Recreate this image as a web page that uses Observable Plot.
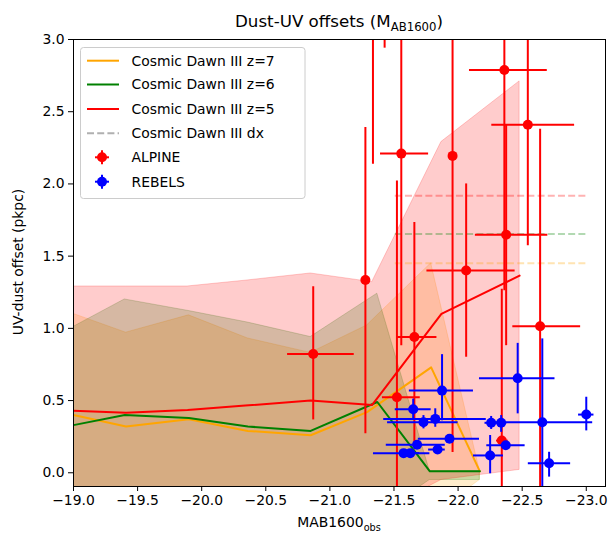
<!DOCTYPE html>
<html><head><meta charset="utf-8">
<script src="https://cdn.jsdelivr.net/npm/d3@7"></script>
<script src="https://cdn.jsdelivr.net/npm/@observablehq/plot@0.6"></script>
<style>
body{margin:0;background:#fff;}
#chart svg{display:block;}
</style></head><body><div id="chart"></div>
<script>
// ---------- data ----------
const xTicks = [-19.0,-19.5,-20.0,-20.5,-21.0,-21.5,-22.0,-22.5,-23.0];
const yTicks = [0.0,0.5,1.0,1.5,2.0,2.5,3.0];

// Cosmic Dawn III z=7 (median + band)
const z7X   = [-19.0,-19.41,-19.9,-20.36,-20.85,-21.29,-21.79,-22.17];
const z7Med = [0.40, 0.32, 0.37, 0.29, 0.26, 0.42, 0.73, 0.01];
const z7Hi  = [1.10, 0.97, 1.09, 0.93, 0.83, 1.02, 1.45, 0.01];
const z7Lo  = [-0.3,-0.3,-0.3,-0.3,-0.3,-0.3,-0.3,-0.05];
// z=6
const z6X   = [-19.0,-19.4,-19.9,-20.36,-20.85,-21.37,-21.78,-22.17];
const z6Med = [0.33, 0.40, 0.38, 0.32, 0.29, 0.49, 0.01, 0.01];
const z6Hi  = [1.01, 1.20, 1.12, 1.04, 0.94, 1.24, 0.01, 0.01];
const z6Lo  = [-0.3,-0.3,-0.3,-0.3,-0.3,-0.3,-0.05,-0.05];
// z=5
const z5X   = [-19.0,-19.41,-19.89,-20.34,-20.85,-21.33,-21.87,-22.48];
const z5Med = [0.43, 0.415, 0.435, 0.465, 0.50, 0.47, 1.10, 1.365];
const z5Hi  = [1.29, 1.29, 1.29, 1.33, 1.38, 1.32, 2.29, 2.71];
const z5Lo  = [-0.3,-0.3,-0.3,-0.3,-0.3,-0.3,-0.05, 0.02];

// Cosmic Dawn III dx (dashed)
const dxY = [1.918, 1.653, 1.45];
const dxColor = ["#ff0000","#008000","#ffa500"];
const dxStart = -21.51, dxEnd = -23.0;

// ALPINE
const alpX   = [-20.87,-21.277,-21.336,-21.427,-21.557,-21.523,-21.659,-21.957,-22.063,-22.361,-22.375,-22.544,-22.64,-22.341];
const alpXlo = [-20.67,-21.277,-21.336,-21.427,-21.395,-21.41,-21.523,-21.957,-21.757,-22.089,-22.135,-22.263,-22.427,-22.30];
const alpXhi = [-21.19,-21.277,-21.336,-21.427,-21.77,-21.705,-21.835,-21.957,-22.445,-22.696,-22.70,-22.909,-22.956,-22.39];
const alpY   = [0.823, 1.335, 3.40, 3.45, 2.21, 0.523, 0.94, 2.194, 1.40, 2.789, 1.648, 2.41, 1.014, 0.223];
const alpYlo = [0.366, 0.27, 2.137, 2.94, 0.88, -0.6, 0.18, 0.14, 0.80, 1.26, 0.88, 1.572, -0.5, -0.8];
const alpYhi = [1.288, 2.39, 4.6, 3.95, 3.55, 2.02, 1.733, 4.2, 2.0, 4.3, 2.41, 3.25, 2.379, 1.27];

// REBELS
const rebX   = [-21.875,-21.65,-21.822,-21.73,-22.258,-22.336,-22.657,-22.465,-23.0,-22.71,-22.372,-22.25,-21.933,-21.84,-21.68,-21.575,-21.627];
const rebXlo = [-21.62,-21.51,-21.42,-21.45,-22.21,-22.29,-22.27,-22.167,-22.94,-22.548,-22.224,-22.12,-21.69,-21.77,-21.44,-21.34,-21.55];
const rebXhi = [-22.12,-21.79,-22.22,-22.0,-22.30,-22.38,-23.05,-22.756,-23.06,-22.878,-22.523,-22.354,-22.167,-21.9,-21.9,-21.78,-21.70];
const rebY   = [0.569, 0.44, 0.373, 0.35, 0.346, 0.346, 0.35, 0.654, 0.403, 0.066, 0.19, 0.12, 0.235, 0.161, 0.194, 0.136, 0.136];
const rebYlo = [0.36, 0.37, 0.315, 0.304, 0.30, 0.28, -0.5, 0.408, 0.29, -0.03, 0.17, -0.007, 0.21, 0.14, 0.17, 0.12, 0.12];
const rebYhi = [0.818, 0.51, 0.443, 0.396, 0.39, 0.396, 0.927, 0.896, 0.523, 0.142, 0.21, 0.258, 0.26, 0.18, 0.22, 0.15, 0.15];

// ---------- tables ----------
const band = (X, M, L, Hh) => X.map((x,i)=>({x, med:M[i], lo:L[i], hi:Hh[i]}));
const z7 = band(z7X,z7Med,z7Lo,z7Hi);
const z6 = band(z6X,z6Med,z6Lo,z6Hi);
const z5 = band(z5X,z5Med,z5Lo,z5Hi);
const dx = dxY.map((y,i)=>({y, c:dxColor[i], x1:dxStart, x2:dxEnd}));
const pts = (X,XL,XH,Y,YL,YH) => X.map((x,i)=>({x, xlo:XL[i], xhi:XH[i], y:Y[i], ylo:YL[i], yhi:YH[i]}));
const alp = pts(alpX,alpXlo,alpXhi,alpY,alpYlo,alpYhi);
const reb = pts(rebX,rebXlo,rebXhi,rebY,rebYlo,rebYhi);

const RED="#ff0000", GREEN="#008000", ORANGE="#ffa500", BLUE="#0000ff";

const plot = Plot.plot({
  width: 613, height: 536,
  marginLeft: 73, marginRight: 8, marginTop: 39, marginBottom: 50,
  style: {fontFamily: "DejaVu Sans", fontSize: "13.9px", color: "black", background: "white"},
  x: {domain: [-19.0, -23.15]},
  y: {domain: [-0.095, 3.0]},
  color: {type: "identity"},
  marks: [
    Plot.areaY(z7, {x:"x", y1:"lo", y2:"hi", fill:ORANGE, fillOpacity:0.2, stroke:ORANGE, strokeOpacity:0.2, strokeWidth:1, clip:true}),
    Plot.areaY(z6, {x:"x", y1:"lo", y2:"hi", fill:GREEN, fillOpacity:0.2, stroke:GREEN, strokeOpacity:0.2, strokeWidth:1, clip:true}),
    Plot.areaY(z5, {x:"x", y1:"lo", y2:"hi", fill:RED, fillOpacity:0.2, stroke:RED, strokeOpacity:0.2, strokeWidth:1, clip:true}),
    Plot.line(z7, {x:"x", y:"med", stroke:ORANGE, strokeWidth:2, clip:true}),
    Plot.line(z6, {x:"x", y:"med", stroke:GREEN, strokeWidth:2, clip:true}),
    Plot.line(z5, {x:"x", y:"med", stroke:RED, strokeWidth:2, clip:true}),
    Plot.ruleY(dx, {y:"y", x1:"x1", x2:"x2", stroke:"c", strokeOpacity:0.3, strokeWidth:2, strokeDasharray:"7,3.2", clip:true}),
    // ALPINE
    Plot.ruleX(alp, {x:"x", y1:"ylo", y2:"yhi", stroke:RED, strokeWidth:2, clip:true}),
    Plot.ruleY(alp.filter(d=>d.xlo!==d.xhi), {y:"y", x1:"xlo", x2:"xhi", stroke:RED, strokeWidth:2, clip:true}),
    Plot.dot(alp, {x:"x", y:"y", r:5, fill:RED, clip:true}),
    // REBELS
    Plot.ruleX(reb, {x:"x", y1:"ylo", y2:"yhi", stroke:BLUE, strokeWidth:2, clip:true}),
    Plot.ruleY(reb, {y:"y", x1:"xlo", x2:"xhi", stroke:BLUE, strokeWidth:2, clip:true}),
    Plot.dot(reb, {x:"x", y:"y", r:5, fill:BLUE, clip:true}),
    Plot.frame({stroke:"black", strokeWidth:1}),
    Plot.axisX({ticks:xTicks, tickFormat:d3.format(".1f"), tickSize:5, tickPadding:4, label:null}),
    Plot.axisY({ticks:yTicks, tickFormat:d3.format(".1f"), tickSize:5, tickPadding:4, label:null})
  ]
});
document.getElementById("chart").appendChild(plot);

// ---------- titles, labels, legend ----------
const svg = d3.select(plot);
const cx = (73 + 605) / 2;
const t = svg.append("text").attr("x", cx).attr("y", 27).attr("text-anchor","middle")
  .style("font-size","16.7px").style("font-family","DejaVu Sans").attr("fill","black");
t.append("tspan").text("Dust-UV offsets (M");
t.append("tspan").attr("dy", 4).style("font-size","11.7px").text("AB1600");
t.append("tspan").attr("dy", -4).text(")");

const xl = svg.append("text").attr("x", cx).attr("y", 527).attr("text-anchor","middle")
  .style("font-size","13.9px").style("font-family","DejaVu Sans").attr("fill","black");
xl.append("tspan").text("MAB1600");
xl.append("tspan").attr("dy", 4).style("font-size","9.7px").text("obs");

svg.append("text").attr("transform","translate(23,262) rotate(-90)").attr("text-anchor","middle")
  .style("font-size","13.9px").style("font-family","DejaVu Sans").attr("fill","black")
  .text("UV-dust offset (pkpc)");

const lg = svg.append("g").style("font-family","DejaVu Sans").style("font-size","13.9px");
lg.append("rect").attr("x",80.5).attr("y",47.5).attr("width",224.5).attr("height",151).attr("rx",3)
  .attr("fill","white").attr("fill-opacity",0.8).attr("stroke","#cccccc").attr("stroke-width",1);
const entries = [
  {label:"Cosmic Dawn III z=7", kind:"line", color:ORANGE},
  {label:"Cosmic Dawn III z=6", kind:"line", color:GREEN},
  {label:"Cosmic Dawn III z=5", kind:"line", color:RED},
  {label:"Cosmic Dawn III dx", kind:"dash", color:"#b0b0b0"},
  {label:"ALPINE", kind:"err", color:RED},
  {label:"REBELS", kind:"err", color:BLUE}
];
const rowY = [60.7, 84.5, 109, 133.3, 157.3, 181.7];
entries.forEach((e,i)=>{
  const y = rowY[i];
  if (e.kind === "line" || e.kind === "dash") {
    const l = lg.append("line").attr("x1",87).attr("x2",119).attr("y1",y).attr("y2",y)
      .attr("stroke",e.color).attr("stroke-width",2);
    if (e.kind === "dash") l.attr("stroke-dasharray","7,3.2");
  } else {
    lg.append("line").attr("x1",95).attr("x2",109).attr("y1",y).attr("y2",y).attr("stroke",e.color).attr("stroke-width",2);
    lg.append("line").attr("x1",102).attr("x2",102).attr("y1",y-7).attr("y2",y+7).attr("stroke",e.color).attr("stroke-width",2);
    lg.append("circle").attr("cx",102).attr("cy",y).attr("r",5).attr("fill",e.color);
  }
  lg.append("text").attr("x",131.5).attr("y",y).attr("dy","0.35em").attr("text-anchor","start")
    .attr("fill","black").text(e.label);
});
</script></body></html>
